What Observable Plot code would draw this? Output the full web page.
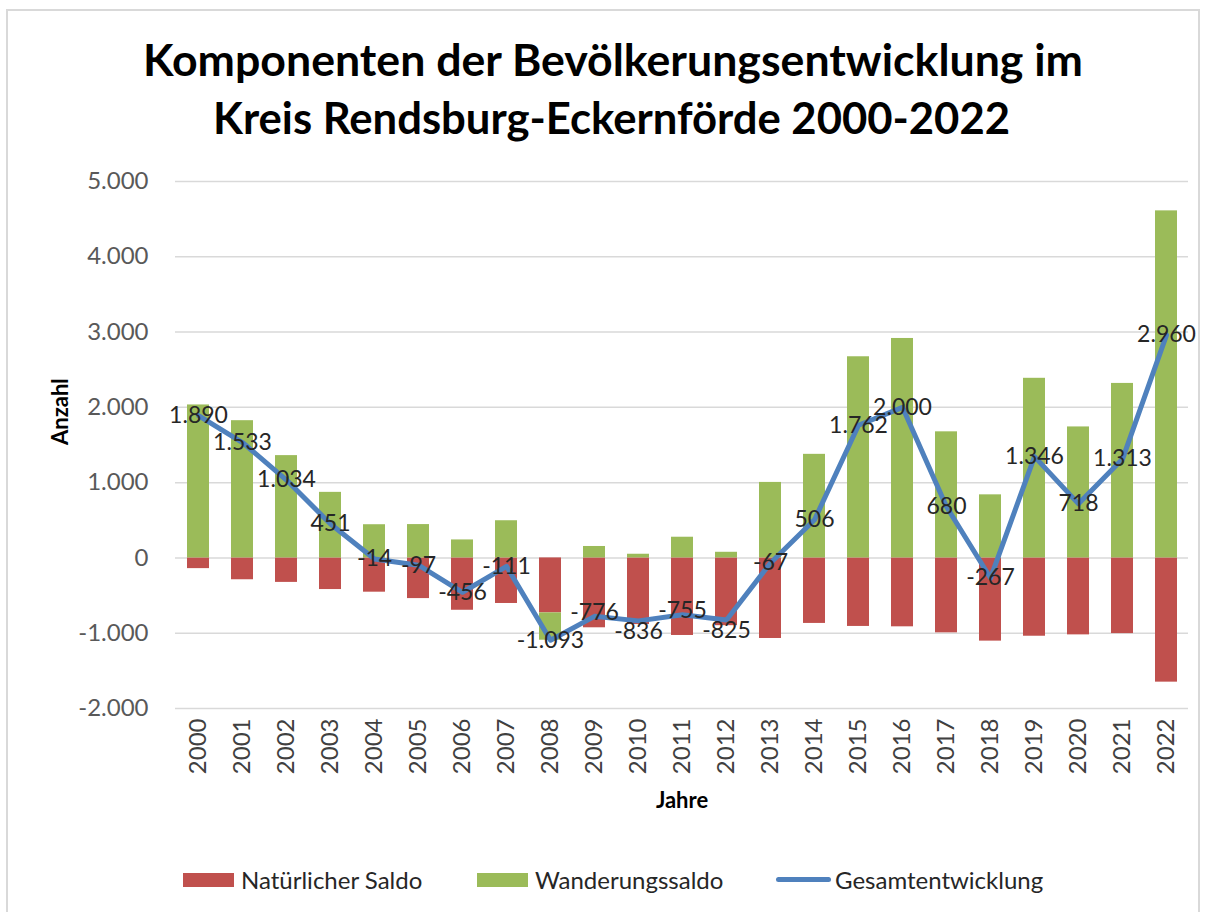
<!DOCTYPE html>
<html>
<head>
<meta charset="utf-8">
<script src="https://cdn.jsdelivr.net/npm/d3@7"></script>
<script src="https://cdn.jsdelivr.net/npm/@observablehq/plot@0.6"></script>
<style>
  html, body { margin: 0; padding: 0; background: #fff; overflow: hidden; }
  #page { position: relative; width: 1213px; height: 912px; font-family: Lato, "Open Sans", sans-serif; }
  #frame { position: absolute; left: 6px; top: 9px; width: 1194px; height: 1000px; border: 2px solid #d9d9d9; box-sizing: border-box; }
  #title { position: absolute; left: 0; top: 0; }
  #chart { position: absolute; left: 0; top: 150px; }
  .leg { position: absolute; top: 866px; height: 28px; line-height: 28px; font-size: 24px; color: #262626; white-space: nowrap; }
  .sw { position: absolute; }
</style>
</head>
<body>
<div id="page">
  <div id="frame"></div>
  <svg id="title" width="1213" height="150" xmlns="http://www.w3.org/2000/svg"></svg>
  <div id="chart"></div>
  <div id="legend"></div>
</div>
<script>
const titleLines = ["Komponenten der Bevölkerungsentwicklung im", "Kreis Rendsburg-Eckernförde 2000-2022"];
const years = ["2000","2001","2002","2003","2004","2005","2006","2007","2008","2009","2010","2011","2012","2013","2014","2015","2016","2017","2018","2019","2020","2021","2022"];
const seriesNames = ["Natürlicher Saldo", "Wanderungssaldo", "Gesamtentwicklung"];
const natural = [-142, -290, -325, -420, -455, -540, -695, -605, -730, -928, -885, -1030, -900, -1070, -870, -910, -915, -995, -1105, -1040, -1022, -1005, -1650];
const migration = [2032, 1823, 1359, 871, 441, 443, 239, 494, -363, 152, 49, 275, 75, 1003, 1376, 2672, 2915, 1675, 838, 2386, 1740, 2318, 4610];
const total = [1890, 1533, 1034, 451, -14, -97, -456, -111, -1093, -776, -836, -755, -825, -67, 506, 1762, 2000, 680, -267, 1346, 718, 1313, 2960];
const yTicks = [-2000, -1000, 0, 1000, 2000, 3000, 4000, 5000];
const yLabel = "Anzahl";
const xLabel = "Jahre";
// years whose value labels sit slightly below / above the line point (as in the reference)
const labelsBelow = ["2010", "2012"];
const labelsAbove = ["2009", "2011"];

const colors = ["#c0504d", "#9bbb59", "#4f81bd"];
const fmt = d3.formatLocale({decimal: ",", thousands: ".", grouping: [3], currency: ["", "€"], minus: "-"}).format(",");

// Title
const tsvg = d3.select("#title");
const titlePos = [{x: 143, y: 76, len: 940}, {x: 213, y: 134, len: 797}];
titleLines.forEach((t, i) => {
  tsvg.append("text")
    .attr("x", titlePos[i].x).attr("y", titlePos[i].y)
    .attr("textLength", titlePos[i].len).attr("lengthAdjust", "spacingAndGlyphs")
    .attr("font-family", "Lato, 'Open Sans', sans-serif").attr("font-weight", "bold")
    .attr("font-size", 43).attr("fill", "#000").text(t);
});

const rows = years.flatMap((y, i) => [
  {year: y, series: seriesNames[0], value: natural[i]},
  {year: y, series: seriesNames[1], value: migration[i]}
]);
const tot = years.map((y, i) => ({year: y, value: total[i]}));
const totMid = tot.filter(d => !labelsBelow.includes(d.year) && !labelsAbove.includes(d.year));
const totBelow = tot.filter(d => labelsBelow.includes(d.year));
const totAbove = tot.filter(d => labelsAbove.includes(d.year));
const labelOpts = {x: "year", y: "value", text: d => fmt(d.value), fill: "#262626", fontSize: 23};

const chart = Plot.plot({
  width: 1213, height: 680,
  marginTop: 31, marginBottom: 122, marginLeft: 175, marginRight: 25,
  style: {fontFamily: "Lato, 'Open Sans', sans-serif", fontSize: "24px", background: "transparent", overflow: "visible"},
  x: {type: "band", domain: years, paddingInner: 0.5, paddingOuter: 0.25, label: null},
  y: {domain: [-2000, 5000], label: null},
  color: {domain: seriesNames.slice(0, 2), range: colors.slice(0, 2)},
  marks: [
    Plot.gridY(yTicks, {stroke: "#d9d9d9", strokeOpacity: 1, strokeWidth: 1.5}),
    Plot.barY(rows, {x: "year", y: "value", fill: "series"}),
    Plot.line(tot, {x: "year", y: "value", stroke: colors[2], strokeWidth: 5, strokeLinejoin: "round", strokeLinecap: "round"}),
    Plot.text(totMid, labelOpts),
    Plot.text(totBelow, {...labelOpts, dy: 11}),
    Plot.text(totAbove, {...labelOpts, dy: -4}),
    Plot.axisY(yTicks, {tickSize: 0, tickPadding: 27, tickFormat: fmt, fill: "#595959", fontSize: 24, label: null}),
    Plot.axisX({tickSize: 0, tickRotate: -90, tickPadding: 10, fill: "#404040", fontSize: 24, label: null}),
    Plot.text([yLabel], {text: d => d, frameAnchor: "left", dx: -115, rotate: -90, fontWeight: "bold", fontSize: 22, fill: "#000"}),
    Plot.text([xLabel], {text: d => d, frameAnchor: "bottom", dy: 99, fontWeight: "bold", fontSize: 22, fill: "#000"})
  ]
});
document.getElementById("chart").appendChild(chart);

// Legend
const legend = d3.select("#legend");
const legPos = [{sx: 183, tx: 241}, {sx: 477, tx: 535}, {sx: 776, tx: 835}];
seriesNames.forEach((name, i) => {
  const isLine = i === 2;
  legend.append("div").attr("class", "sw")
    .style("left", legPos[i].sx + "px")
    .style("top", (isLine ? 877 : 873) + "px")
    .style("width", (isLine ? 55 : 51) + "px")
    .style("height", (isLine ? 5 : 14) + "px")
    .style("border-radius", isLine ? "3px" : "0")
    .style("background", colors[i]);
  legend.append("div").attr("class", "leg")
    .style("left", legPos[i].tx + "px").text(name);
});
</script>
</body>
</html>
